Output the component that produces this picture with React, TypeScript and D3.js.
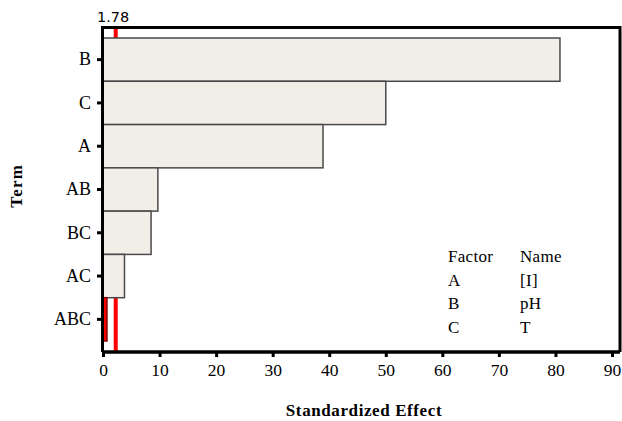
import React, { useEffect, useRef } from 'react';
import * as d3 from 'd3';

// Pareto chart of standardized effects
const terms = ['B', 'C', 'A', 'AB', 'BC', 'AC', 'ABC'];
const effects = [80.8, 50.0, 38.9, 9.7, 8.5, 3.8, 0.7];
const xTicks = [0, 10, 20, 30, 40, 50, 60, 70, 80, 90];
const criticalLabel = '1.78';
const criticalValue = 1.78;
const refLineValue = 2.25;
const legendFactors = ['Factor', 'A', 'B', 'C'];
const legendNames = ['Name', '[I]', 'pH', 'T'];

const App = () => {
    const svgRef = useRef<SVGSVGElement>(null);

    useEffect(() => {
        const svg = d3.select(svgRef.current);
        svg.selectAll('*').remove();

        const width = 622;
        const height = 421;
        const left = 102.5;
        const right = 620;
        const top = 27.5;
        const bottom = 352;
        const serif = '"Liberation Serif", "Times New Roman", serif';

        const x = d3.scaleLinear([0, 90], [103, 612]);
        const y = d3.scaleBand(terms, [38, 341]).paddingInner(0);

        svg.attr('width', width).attr('height', height);

        // red reference line (behind the bars)
        svg.append('line')
            .attr('x1', x(refLineValue)).attr('x2', x(refLineValue))
            .attr('y1', top).attr('y2', bottom)
            .attr('stroke', '#ff0000')
            .attr('stroke-width', 4);

        svg.append('text')
            .attr('x', x(criticalValue))
            .attr('y', 22)
            .attr('text-anchor', 'middle')
            .attr('font-family', '"DejaVu Sans", sans-serif')
            .attr('font-size', 14.5)
            .attr('fill', '#000')
            .text(criticalLabel);

        // bars
        svg.append('g')
            .selectAll('rect')
            .data(terms)
            .join('rect')
            .attr('x', x(0))
            .attr('y', d => y(d)!)
            .attr('width', (d, i) => x(effects[i]) - x(0))
            .attr('height', y.bandwidth())
            .attr('fill', d => d === 'ABC' ? '#ff0000' : '#f1eee8')
            .attr('stroke', d => d === 'ABC' ? '#800000' : '#4a4a4a')
            .attr('stroke-width', 1.5);

        // frame
        svg.append('path')
            .attr('d', `M${left},${bottom}V${top}H${right}V${bottom}`)
            .attr('fill', 'none')
            .attr('stroke', '#000')
            .attr('stroke-width', 3);
        svg.append('line')
            .attr('x1', left).attr('x2', right)
            .attr('y1', bottom).attr('y2', bottom)
            .attr('stroke', '#000')
            .attr('stroke-width', 3.5);

        // x axis
        svg.append('g')
            .attr('transform', `translate(0,${bottom})`)
            .call(d3.axisBottom(x).tickValues(xTicks).tickSize(5).tickPadding(7).tickFormat(d3.format('d')))
            .call(g => g.select('.domain').remove())
            .call(g => g.selectAll('.tick line').attr('stroke', '#000').attr('stroke-width', 3))
            .call(g => g.selectAll('.tick text')
                .attr('font-family', serif)
                .attr('font-size', 17.5)
                .attr('fill', '#000'));

        // y axis
        svg.append('g')
            .attr('transform', `translate(${left},0)`)
            .call(d3.axisLeft(y).tickSize(5.5).tickPadding(6))
            .call(g => g.select('.domain').remove())
            .call(g => g.selectAll('.tick line').attr('stroke', '#000').attr('stroke-width', 3))
            .call(g => g.selectAll('.tick text')
                .attr('font-family', serif)
                .attr('font-size', 18)
                .attr('fill', '#000'));

        // axis titles
        svg.append('text')
            .attr('x', 364)
            .attr('y', 416)
            .attr('text-anchor', 'middle')
            .attr('font-family', serif)
            .attr('font-weight', 'bold')
            .attr('font-size', 17)
            .attr('letter-spacing', 0.6)
            .attr('fill', '#000')
            .text('Standardized Effect');

        svg.append('text')
            .attr('transform', `translate(22,${(top + bottom) / 2 - 4}) rotate(-90)`)
            .attr('text-anchor', 'middle')
            .attr('font-family', serif)
            .attr('font-weight', 'bold')
            .attr('font-size', 17)
            .attr('letter-spacing', 1.2)
            .attr('fill', '#000')
            .text('Term');

        // legend
        const legend = svg.append('g')
            .attr('font-family', serif)
            .attr('font-size', 17)
            .attr('letter-spacing', 0.3)
            .attr('fill', '#000');
        legend.selectAll('text.f')
            .data(legendFactors)
            .join('text')
            .attr('class', 'f')
            .attr('x', 448)
            .attr('y', (d, i) => 262 + i * 23.7)
            .text(d => d);
        legend.selectAll('text.n')
            .data(legendNames)
            .join('text')
            .attr('class', 'n')
            .attr('x', 520)
            .attr('y', (d, i) => 262 + i * 23.7)
            .text(d => d);
    }, []);

    return <svg ref={svgRef} style={{ position: 'absolute', left: 0, top: 0, display: 'block' }} />;
};

export default App;
